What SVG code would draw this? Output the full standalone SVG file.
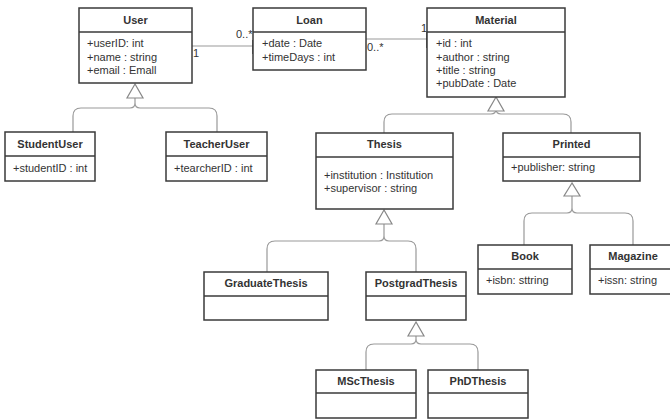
<svg xmlns="http://www.w3.org/2000/svg" width="670" height="419" viewBox="0 0 670 419">
<style>
.box{fill:#fff;stroke:#3a3a3a;stroke-width:1.5}
.div{stroke:#3a3a3a;stroke-width:1.5}
.t{font-family:"Liberation Sans",Arial,sans-serif;font-size:11px;fill:#333}
.h{font-weight:bold;text-anchor:middle}
.c{fill:none;stroke:#999;stroke-width:1.2}
.tri{fill:#fff;stroke:#888;stroke-width:1.2}
.tick{stroke:#3a3a3a;stroke-width:1.5}
</style>
<rect width="670" height="419" fill="#fff"/>
<g id="connectors">
<path class="c" d="M192 46H253"/>
<path class="c" d="M366 39H427"/>
<path class="tick" d="M253 40V54M427 32V48"/>
<text class="t" x="193" y="57">1</text>
<text class="t" x="236" y="38">0..*</text>
<text class="t" x="421" y="32">1</text>
<text class="t" x="367" y="51">0..*</text>
<!-- User generalization -->
<path class="c" d="M135 98V103Q135 108 130 108H81Q73 108 73 116V132M135 103Q135 108 140 108H209Q217 108 217 116V132"/>
<path class="tri" d="M135 84L127 98H143Z"/>
<!-- Material generalization -->
<path class="c" d="M496 111V109Q496 114 491 114H392Q384 114 384 122V133M496 109Q496 114 501 114H563Q571 114 571 122V133"/>
<path class="tri" d="M496 97L488 111H504Z"/>
<!-- Printed generalization -->
<path class="c" d="M572 196V208Q572 213 567 213H532Q524 213 524 221V245M572 208Q572 213 577 213H625Q633 213 633 221V245"/>
<path class="tri" d="M572 183L564 196H580Z"/>
<!-- Thesis generalization -->
<path class="c" d="M384 224V236Q384 241 379 241H275Q267 241 267 249V272M384 236Q384 241 389 241H408Q416 241 416 249V272"/>
<path class="tri" d="M384 210L376 224H392Z"/>
<!-- Postgrad generalization -->
<path class="c" d="M416 336V339Q416 344 411 344H374Q366 344 366 352V370M416 339Q416 344 421 344H470Q478 344 478 352V370"/>
<path class="tri" d="M416 322L408 336H424Z"/>
</g>
<g id="User">
<rect class="box" x="79" y="8" width="113" height="75"/>
<path class="div" d="M79 32H192"/>
<text class="t h" x="135.5" y="24">User</text>
<text class="t" x="87" y="47">+userID: int</text>
<text class="t" x="87" y="61">+name : string</text>
<text class="t" x="87" y="74">+email : Emall</text>
</g>
<g id="Loan">
<rect class="box" x="253" y="8" width="113" height="62"/>
<path class="div" d="M253 32H366"/>
<text class="t h" x="309.5" y="24">Loan</text>
<text class="t" x="262" y="47">+date : Date</text>
<text class="t" x="262" y="61">+timeDays : int</text>
</g>
<g id="Material">
<rect class="box" x="427" y="8" width="138" height="89"/>
<path class="div" d="M427 32H565"/>
<text class="t h" x="496" y="24">Material</text>
<text class="t" x="436" y="47">+id : int</text>
<text class="t" x="436" y="61">+author : string</text>
<text class="t" x="436" y="74">+title : string</text>
<text class="t" x="436" y="87">+pubDate : Date</text>
</g>
<g id="StudentUser">
<rect class="box" x="5" y="132" width="90" height="49"/>
<path class="div" d="M5 156H95"/>
<text class="t h" x="50" y="148">StudentUser</text>
<text class="t" x="13" y="172">+studentID : int</text>
</g>
<g id="TeacherUser">
<rect class="box" x="166" y="132" width="101" height="49"/>
<path class="div" d="M166 156H267"/>
<text class="t h" x="216.5" y="148">TeacherUser</text>
<text class="t" x="174" y="172">+tearcherID : int</text>
</g>
<g id="Thesis">
<rect class="box" x="316" y="133" width="137" height="76"/>
<path class="div" d="M316 157H453"/>
<text class="t h" x="384.5" y="148">Thesis</text>
<text class="t" x="324" y="179">+institution : Institution</text>
<text class="t" x="324" y="192">+supervisor : string</text>
</g>
<g id="Printed">
<rect class="box" x="503" y="133" width="137" height="48"/>
<path class="div" d="M503 157H640"/>
<text class="t h" x="571.5" y="148">Printed</text>
<text class="t" x="511" y="171">+publisher: string</text>
</g>
<g id="Book">
<rect class="box" x="478" y="245" width="94" height="49"/>
<path class="div" d="M478 269H572"/>
<text class="t h" x="525" y="260">Book</text>
<text class="t" x="486" y="284">+isbn: sttring</text>
</g>
<g id="Magazine">
<rect class="box" x="590" y="245" width="86" height="49"/>
<path class="div" d="M590 269H676"/>
<text class="t h" x="633" y="260">Magazine</text>
<text class="t" x="598" y="284">+issn: string</text>
</g>
<g id="GraduateThesis">
<rect class="box" x="204" y="272" width="124" height="48"/>
<path class="div" d="M204 296H328"/>
<text class="t h" x="266" y="287">GraduateThesis</text>
</g>
<g id="PostgradThesis">
<rect class="box" x="366" y="272" width="100" height="48"/>
<path class="div" d="M366 296H466"/>
<text class="t h" x="416" y="287">PostgradThesis</text>
</g>
<g id="MScThesis">
<rect class="box" x="316" y="370" width="100" height="48"/>
<path class="div" d="M316 393H416"/>
<text class="t h" x="366" y="385">MScThesis</text>
</g>
<g id="PhDThesis">
<rect class="box" x="428" y="370" width="100" height="48"/>
<path class="div" d="M428 393H528"/>
<text class="t h" x="478" y="385">PhDThesis</text>
</g>
</svg>
